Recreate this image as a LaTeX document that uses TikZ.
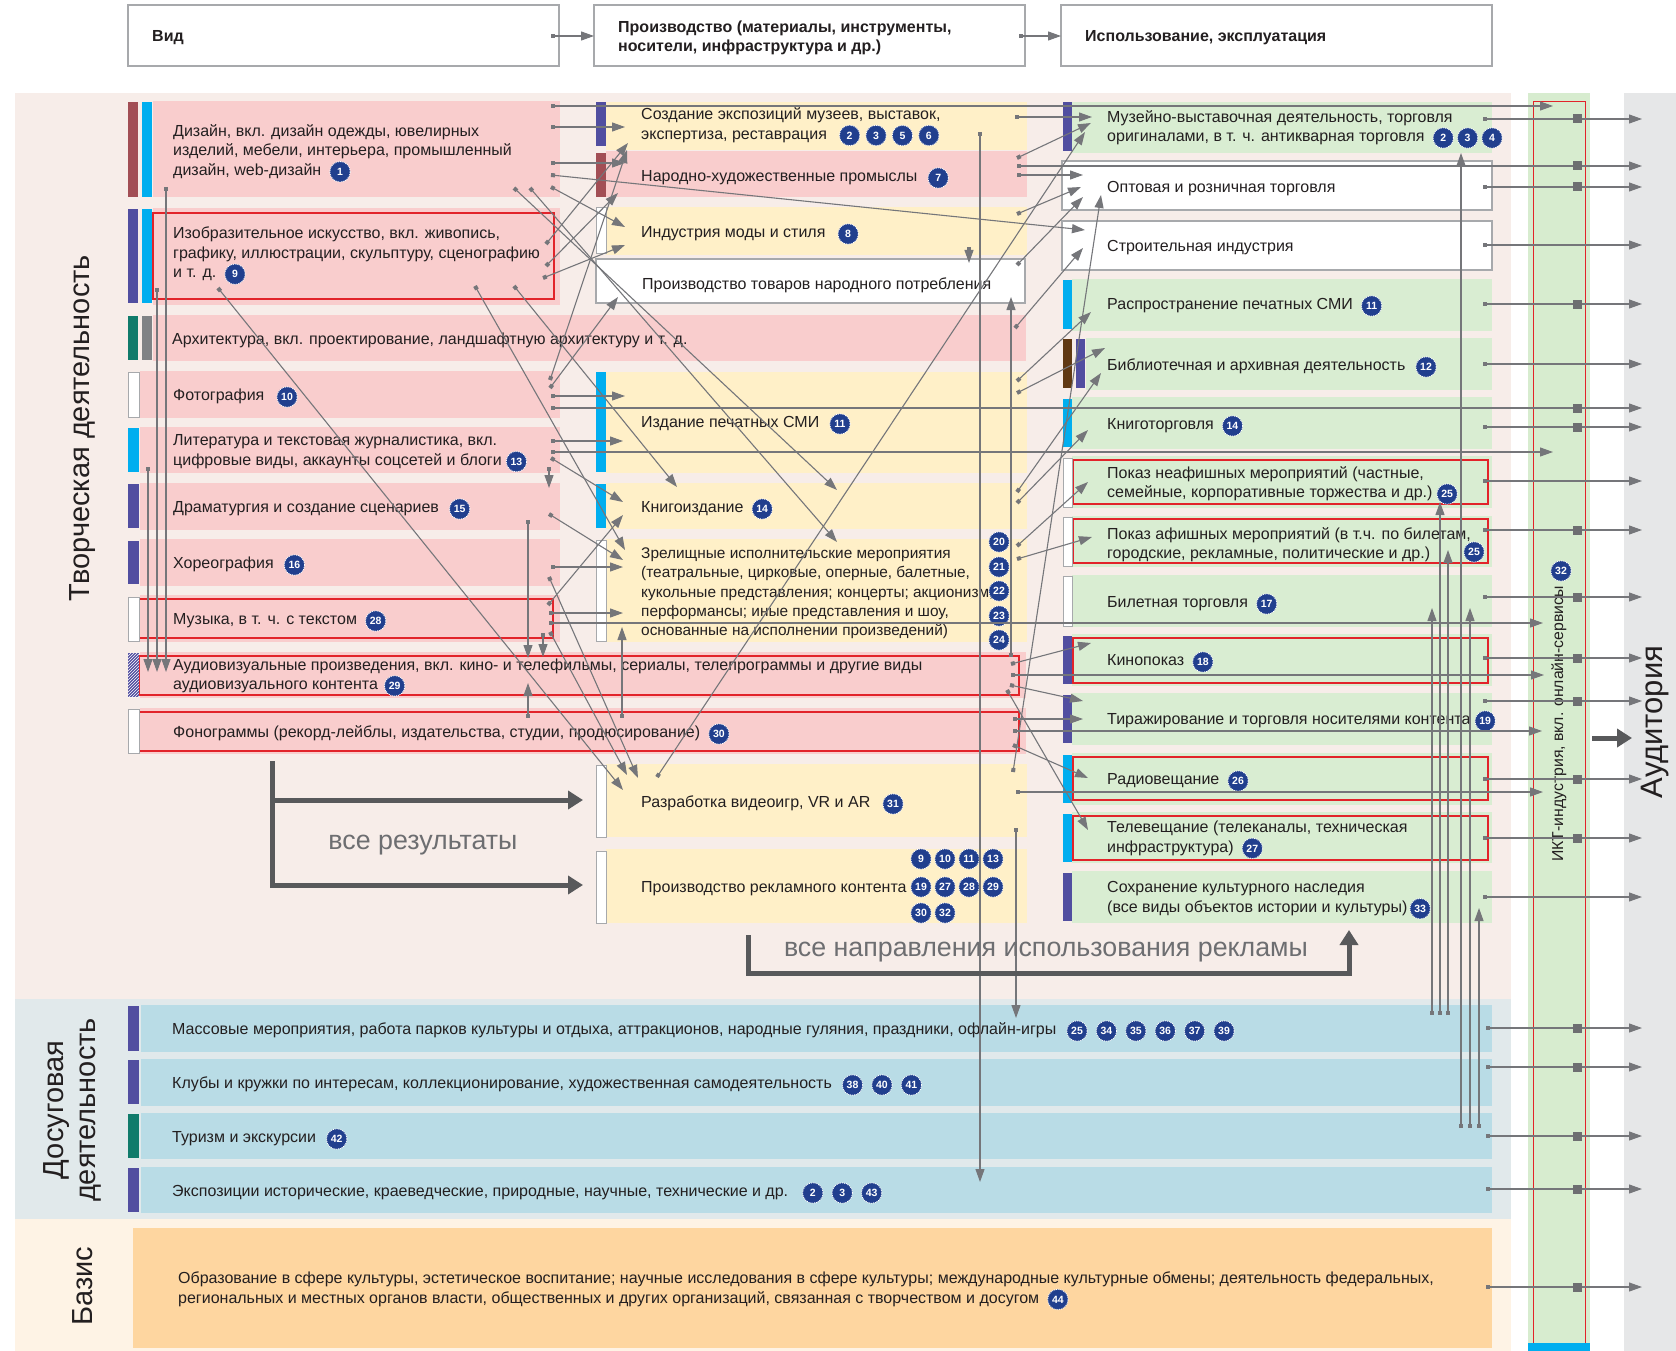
\documentclass[tikz,border=0pt]{standalone}
\usepackage{fontspec}
\setmainfont{Liberation Sans}
\usetikzlibrary{arrows.meta,patterns}

\definecolor{bgcre}{HTML}{F7EDE9}
\definecolor{bglei}{HTML}{E1E9EB}
\definecolor{bgbas}{HTML}{FEF3E5}
\definecolor{pinkfill}{HTML}{F9CDCD}
\definecolor{yelfill}{HTML}{FFF0C8}
\definecolor{grnfill}{HTML}{D9EDD2}
\definecolor{blufill}{HTML}{B9DCE6}
\definecolor{orafill}{HTML}{FED6A0}
\definecolor{ictfill}{HTML}{D7ECCF}
\definecolor{audfill}{HTML}{E6E7E8}
\definecolor{redline}{HTML}{E2232A}
\definecolor{barbrown}{HTML}{A24E55}
\definecolor{barblue}{HTML}{00AEEF}
\definecolor{barpurple}{HTML}{514EA0}
\definecolor{barteal}{HTML}{107B6B}
\definecolor{bargray}{HTML}{808285}
\definecolor{bardark}{HTML}{603913}
\definecolor{linegray}{HTML}{75767A}
\definecolor{boxgray}{HTML}{A7A9AC}
\definecolor{badgeblue}{HTML}{213F8E}
\definecolor{arrowdark}{HTML}{58595B}
\definecolor{labelgray}{HTML}{6D6E71}
\definecolor{ink}{HTML}{231F20}

\tikzset{badge/.style={circle, fill=badgeblue, draw=white, densely dotted, line width=0.9pt,
    minimum size=20.5pt, inner sep=0pt, text=white, font=\bfseries\fontsize{10.5}{10.5}\selectfont}}
\newcommand{\nbadge}[1]{\tikz[baseline=(nb.base)]\node[badge] (nb) {#1};}

\begin{document}
\begin{tikzpicture}[x=1pt, y=-1pt,
    box/.style={anchor=north west, inner sep=0pt, outer sep=0pt},
    pbox/.style={box, fill=pinkfill},
    ybox/.style={box, fill=yelfill},
    gbox/.style={box, fill=grnfill},
    bbox/.style={box, fill=blufill},
    wbox/.style={box, fill=white, draw=boxgray, line width=1.2pt},
    redbox/.style={draw=redline, line width=1.3pt},
    wbar/.style={fill=white, draw=boxgray, line width=1pt},
    conn/.style={draw=linegray, line width=1.1pt,
      {Square[length=4pt,width=4pt]}-{Triangle[length=13pt,width=9pt]}},
    bigarrow/.style={draw=arrowdark, line width=5pt, -{Triangle[length=15pt,width=18pt]}},
    ictsq/.style={fill=labelgray, minimum size=9pt, inner sep=0pt}]
  \tikzstyle{txt}=[anchor=west, align=left, inner sep=0pt, yshift=-2pt, text=ink, font=\fontsize{16}{19.5}\selectfont]
  \tikzstyle{side}=[rotate=90, align=center, inner sep=0pt, text=ink, font=\fontsize{29}{32}\selectfont]

  \useasboundingbox (0,0) rectangle (1676,1351);
  \fill[white] (0,0) rectangle (1676,1351);

  % zones
  \fill[bgcre] (15,93) rectangle (1511,999);
  \fill[bglei] (15,999) rectangle (1511,1219);
  \fill[bgbas] (15,1219) rectangle (1511,1351);
  \fill[ictfill] (1528,93) rectangle (1590,1351);
  \draw[redline, line width=1pt] (1533,102) rectangle (1585,1345);
  \fill[barblue] (1528,1343) rectangle (1590,1351);
  \fill[audfill] (1624,93) rectangle (1676,1351);

  % header
  \node[wbox, minimum width=431, minimum height=61] (hv) at (128,5) {};
  \node[wbox, minimum width=431, minimum height=61] (hp) at (594,5) {};
  \node[wbox, minimum width=431, minimum height=61] (hi) at (1061,5) {};
  \node[txt, font=\bfseries\fontsize{16}{18.5}\selectfont] (hv-t) at (152,36) {Вид};
  \node[txt, font=\bfseries\fontsize{16}{18.5}\selectfont] (hp-t) at (618,36) {Производство (материалы, инструменты,\\носители, инфраструктура и др.)};
  \node[txt, font=\bfseries\fontsize{16}{18.5}\selectfont] (hi-t) at (1085,36) {Использование, эксплуатация};

  % kinds of creative work
  \node[pbox, minimum width=407, minimum height=96] (diz) at (153,101) {};
  \node[pbox, minimum width=407, minimum height=97] (izo) at (153,208) {};
  \node[pbox, minimum width=873, minimum height=46] (arch) at (153,315) {};
  \node[pbox, minimum width=420, minimum height=47] (foto) at (140,371) {};
  \node[pbox, minimum width=420, minimum height=46] (lit) at (140,427) {};
  \node[pbox, minimum width=420, minimum height=47] (dram) at (140,483) {};
  \node[pbox, minimum width=420, minimum height=47] (hor) at (140,539) {};
  \node[pbox, minimum width=420, minimum height=47] (muz) at (140,595) {};
  \node[pbox, minimum width=886, minimum height=46] (av) at (140,652) {};
  \node[pbox, minimum width=886, minimum height=46] (fon) at (140,708) {};

  % production
  \node[ybox, minimum width=421, minimum height=48] (sozd) at (606,102) {};
  \node[pbox, minimum width=421, minimum height=46] (nar) at (606,151) {};
  \node[ybox, minimum width=421, minimum height=48] (ind) at (606,207) {};
  \node[wbox, minimum width=429, minimum height=44] (ptov) at (596,259) {};
  \node[ybox, minimum width=421, minimum height=101] (izd) at (606,372) {};
  \node[ybox, minimum width=421, minimum height=46] (knig) at (606,483) {};
  \node[ybox, minimum width=421, minimum height=103] (zrel) at (606,539) {};
  \node[ybox, minimum width=421, minimum height=73] (razr) at (606,764) {};
  \node[ybox, minimum width=421, minimum height=74] (rekl) at (606,849) {};

  % use
  \node[gbox, minimum width=420, minimum height=51] (muzv) at (1072,102) {};
  \node[wbox, minimum width=430, minimum height=49] (opt) at (1062,161) {};
  \node[wbox, minimum width=430, minimum height=49] (stroi) at (1062,221) {};
  \node[gbox, minimum width=420, minimum height=52] (rasp) at (1072,279) {};
  \node[gbox, minimum width=406, minimum height=52] (bib) at (1086,338) {};
  \node[gbox, minimum width=420, minimum height=52] (ktorg) at (1072,397) {};
  \node[gbox, minimum width=420, minimum height=52] (pneaf) at (1072,456) {};
  \node[gbox, minimum width=420, minimum height=51] (paf) at (1072,516) {};
  \node[gbox, minimum width=420, minimum height=52] (bil) at (1072,575) {};
  \node[gbox, minimum width=420, minimum height=52] (kino) at (1072,634) {};
  \node[gbox, minimum width=420, minimum height=52] (tir) at (1072,693) {};
  \node[gbox, minimum width=420, minimum height=52] (radio) at (1072,753) {};
  \node[gbox, minimum width=420, minimum height=51] (tv) at (1072,812) {};
  \node[gbox, minimum width=420, minimum height=52] (sohr) at (1072,871) {};

  % leisure and basis
  \node[bbox, minimum width=1351, minimum height=47] (mass) at (141,1005) {};
  \node[bbox, minimum width=1351, minimum height=47] (klub) at (141,1059) {};
  \node[bbox, minimum width=1351, minimum height=46] (tur) at (141,1113) {};
  \node[bbox, minimum width=1351, minimum height=46] (eksp) at (141,1167) {};
  \node[box, fill=orafill, minimum width=1359, minimum height=120] (bas) at (133,1228) {};

  % red frames
  \draw[redbox] (153,213) rectangle (554,299);
  \draw[redbox] (139,599) rectangle (553,638);
  \draw[redbox] (139,656) rectangle (1019,695);
  \draw[redbox] (139,712) rectangle (1019,751);
  \draw[redbox] (1073,460) rectangle (1488,504);
  \draw[redbox] (1073,519) rectangle (1488,563);
  \draw[redbox] (1073,638) rectangle (1488,683);
  \draw[redbox] (1073,757) rectangle (1488,800);
  \draw[redbox] (1073,816) rectangle (1488,860);

  % marker bars
  \fill[barbrown] (128,102) rectangle (138,197);
  \fill[barblue] (142,102) rectangle (152,197);
  \fill[barpurple] (128,209) rectangle (138,303);
  \fill[barblue] (142,209) rectangle (152,303);
  \fill[barteal] (128,316) rectangle (138,360);
  \fill[bargray] (142,316) rectangle (152,360);
  \filldraw[wbar] (128,372) rectangle (139,417);
  \fill[barblue] (128,428) rectangle (139,472);
  \fill[barpurple] (128,484) rectangle (139,528);
  \fill[barpurple] (128,541) rectangle (139,584);
  \filldraw[wbar] (128,597) rectangle (139,641);
  \fill[barpurple] (128,653) rectangle (139,697);
  \fill[pattern=north east lines, pattern color=white] (128,653) rectangle (139,697);
  \filldraw[wbar] (128,709) rectangle (139,753);
  \fill[barpurple] (596,102) rectangle (606,146);
  \fill[barbrown] (596,153) rectangle (606,197);
  \filldraw[wbar] (596,208) rectangle (606,253);
  \fill[barblue] (596,372) rectangle (606,472);
  \fill[barblue] (596,484) rectangle (606,528);
  \filldraw[wbar] (596,540) rectangle (606,641);
  \filldraw[wbar] (596,765) rectangle (606,837);
  \filldraw[wbar] (596,851) rectangle (606,923);
  \fill[barpurple] (1063,102) rectangle (1072,151);
  \fill[barblue] (1063,280) rectangle (1072,329);
  \fill[bardark] (1063,339) rectangle (1072,388);
  \fill[barpurple] (1076,339) rectangle (1085,388);
  \fill[barblue] (1063,399) rectangle (1072,447);
  \filldraw[wbar] (1063,458) rectangle (1072,507);
  \filldraw[wbar] (1063,517) rectangle (1072,566);
  \filldraw[wbar] (1063,576) rectangle (1072,626);
  \fill[barpurple] (1063,636) rectangle (1072,684);
  \fill[barpurple] (1063,695) rectangle (1072,743);
  \fill[barblue] (1063,755) rectangle (1072,803);
  \fill[barblue] (1063,814) rectangle (1072,862);
  \fill[barpurple] (1063,873) rectangle (1072,921);
  \fill[barpurple] (128,1006) rectangle (139,1051);
  \fill[barpurple] (128,1060) rectangle (139,1104);
  \fill[barteal] (128,1114) rectangle (139,1158);
  \fill[barpurple] (128,1168) rectangle (139,1212);

  % side labels
  \node[side] (tvor-t) at (83,428) {Творческая деятельность};
  \node[side] (dos-t) at (72,1110) {Досуговая\\деятельность};
  \node[side] (baz-t) at (83,1286) {Базис};
  \node[side, font=\fontsize{31}{34}\selectfont] (aud-t) at (1655,722) {Аудитория};
  \node[side, font=\fontsize{15.8}{19}\selectfont] (ict-t) at (1559,724) {ИКТ-индустрия, вкл. онлайн-сервисы};
  \node[badge] (ict-b) at (1561,571) {32};

  % texts, left
  \node[txt] (diz-t) at (173,151.5) {Дизайн, вкл. дизайн одежды, ювелирных\\изделий, мебели, интерьера, промышленный\\дизайн, web-дизайн\hspace{8pt}\nbadge{1}};
  \node[txt] (izo-t) at (173,254) {Изобразительное искусство, вкл. живопись,\\графику, иллюстрации, скульптуру, сценографию\\и т. д.\hspace{8pt}\nbadge{9}};
  \node[txt] (arch-t) at (172,338) {Архитектура, вкл. проектирование, ландшафтную архитектуру и т. д.};
  \node[txt] (foto-t) at (173,395) {Фотография\hspace{12pt}\nbadge{10}};
  \node[txt] (lit-t) at (173,451.5) {Литература и текстовая журналистика, вкл.\\цифровые виды, аккаунты соцсетей и блоги\hspace{4pt}\nbadge{13}};
  \node[txt] (dram-t) at (173,507) {Драматургия и создание сценариев\hspace{10pt}\nbadge{15}};
  \node[txt] (hor-t) at (173,563) {Хореография\hspace{10pt}\nbadge{16}};
  \node[txt] (muz-t) at (173,619) {Музыка, в т. ч. с текстом\hspace{8pt}\nbadge{28}};
  \node[txt] (av-t) at (173,675.5) {Аудиовизуальные произведения, вкл. кино- и телефильмы, сериалы, телепрограммы и другие виды\\аудиовизуального контента\hspace{6pt}\nbadge{29}};
  \node[txt] (fon-t) at (173,732) {Фонограммы (рекорд-лейблы, издательства, студии, продюсирование)\hspace{8pt}\nbadge{30}};

  % texts, production
  \node[txt] (sozd-t) at (641,125) {Создание экспозиций музеев, выставок,\\экспертиза, реставрация\hspace{12pt}\nbadge{2}\hspace{5pt}\nbadge{3}\hspace{5pt}\nbadge{5}\hspace{5pt}\nbadge{6}};
  \node[txt] (nar-t) at (641,176) {Народно-художественные промыслы\hspace{10pt}\nbadge{7}};
  \node[txt] (ind-t) at (641,232) {Индустрия моды и стиля\hspace{12pt}\nbadge{8}};
  \node[txt] (ptov-t) at (642,283) {Производство товаров народного потребления};
  \node[txt] (izd-t) at (641,422) {Издание печатных СМИ\hspace{10pt}\nbadge{11}};
  \node[txt] (knig-t) at (641,507) {Книгоиздание\hspace{8pt}\nbadge{14}};
  \node[txt, font=\fontsize{15.4}{19.3}\selectfont] (zrel-t) at (641,591.5) {Зрелищные исполнительские мероприятия\\(театральные, цирковые, оперные, балетные,\\кукольные представления; концерты; акционизм;\\перформансы; иные представления и шоу,\\основанные на исполнении произведений)};
  \node[txt] (razr-t) at (641,802) {Разработка видеоигр, VR и AR\hspace{12pt}\nbadge{31}};
  \node[txt] (rekl-t) at (641,887) {Производство рекламного контента};
  \foreach \n/\y in {20/542, 21/567, 22/591, 23/616, 24/640}
    \node[badge] (zb\n) at (999,\y) {\n};
  \foreach \n/\x/\y in {9/921/859, 10/945/859, 11/969/859, 13/993/859, 19/921/887, 27/945/887,
      28/969/887, 29/993/887, 30/921/913, 32/945/913}
    \node[badge] (rb\n) at (\x,\y) {\n};

  % texts, use
  \node[txt] (muzv-t) at (1107,127.5) {Музейно-выставочная деятельность, торговля\\оригиналами, в т. ч. антикварная торговля\hspace{8pt}\nbadge{2}\hspace{3pt}\nbadge{3}\hspace{3pt}\nbadge{4}};
  \node[txt] (opt-t) at (1107,187) {Оптовая и розничная торговля};
  \node[txt] (stroi-t) at (1107,246) {Строительная индустрия};
  \node[txt] (rasp-t) at (1107,304) {Распространение печатных СМИ\hspace{8pt}\nbadge{11}};
  \node[txt] (bib-t) at (1107,365) {Библиотечная и архивная деятельность\hspace{10pt}\nbadge{12}};
  \node[txt] (ktorg-t) at (1107,424) {Книготорговля\hspace{8pt}\nbadge{14}};
  \node[txt] (pneaf-t) at (1107,483.5) {Показ неафишных мероприятий (частные,\\семейные, корпоративные торжества и др.)\hspace{4pt}\nbadge{25}};
  \node[txt] (paf-t) at (1107,542.5) {Показ афишных мероприятий (в т.ч. по билетам,\\городские, рекламные, политические и др.)};
  \node[badge] (paf-b) at (1474,552) {25};
  \node[txt] (bil-t) at (1107,602) {Билетная торговля\hspace{8pt}\nbadge{17}};
  \node[txt] (kino-t) at (1107,660) {Кинопоказ\hspace{8pt}\nbadge{18}};
  \node[txt] (tir-t) at (1107,719) {Тиражирование и торговля носителями контента\hspace{4pt}\nbadge{19}};
  \node[txt] (radio-t) at (1107,779) {Радиовещание\hspace{8pt}\nbadge{26}};
  \node[txt] (tv-t) at (1107,838) {Телевещание (телеканалы, техническая\\инфраструктура)\hspace{8pt}\nbadge{27}};
  \node[txt] (sohr-t) at (1107,898.5) {Сохранение культурного наследия\\(все виды объектов истории и культуры)\hspace{2pt}\nbadge{33}};

  % texts, leisure and basis
  \node[txt] (mass-t) at (172,1029) {Массовые мероприятия, работа парков культуры и отдыха, аттракционов, народные гуляния, праздники, офлайн-игры\hspace{10pt}\nbadge{25}\hspace{8pt}\nbadge{34}\hspace{8pt}\nbadge{35}\hspace{8pt}\nbadge{36}\hspace{8pt}\nbadge{37}\hspace{8pt}\nbadge{39}};
  \node[txt] (klub-t) at (172,1083) {Клубы и кружки по интересам, коллекционирование, художественная самодеятельность\hspace{10pt}\nbadge{38}\hspace{8pt}\nbadge{40}\hspace{8pt}\nbadge{41}};
  \node[txt] (tur-t) at (172,1137) {Туризм и экскурсии\hspace{10pt}\nbadge{42}};
  \node[txt] (eksp-t) at (172,1191) {Экспозиции исторические, краеведческие, природные, научные, технические и др.\hspace{14pt}\nbadge{2}\hspace{8pt}\nbadge{3}\hspace{8pt}\nbadge{43}};
  \node[txt] (bas-t) at (178,1289) {Образование в сфере культуры, эстетическое воспитание; научные исследования в сфере культуры; международные культурные обмены; деятельность федеральных,\\региональных и местных органов власти, общественных и других организаций, связанная с творчеством и досугом\hspace{8pt}\nbadge{44}};

  % connectors between named ports
  \foreach \a/\ax/\ay/\b/\bx/\by in {
      hv-o/551/36/hp-i/594/36, hp-o/1019/36/hi-i/1061/36,
      diz-o1/551/106/ict-i1/1553/106, diz-o2/551/127/sozd-i1/625/127,
      diz-o3/551/163/nar-i1/625/163, diz-o4/551/175/stroi-i1/1085/230,
      diz-o5/551/187/ind-i1/625/227, diz-o6/514/188/knig-i1/837/490,
      diz-o7/530/188/zrel-i1/837/542, diz-o8/166/187/av-i1/166/672,
      izo-o1/546/244/sozd-i2/628/143, izo-o2/546/266/nar-i2/618/193,
      izo-o3/543/278/ind-i2/625/245, izo-o4/475/286/zrel-i2/625/550,
      izo-o5/514/286/knig-i2/677/487, izo-o6/218/288/razr-i1/623/790,
      izo-o7/157/288/av-i2/157/672,
      foto-o1/550/380/sozd-i3/627/150, foto-o2/550/388/ptov-i1/618/297,
      foto-o3/551/396/izd-i1/625/396, foto-o4/551/408/aud-i1/1642/408,
      lit-o1/551/441/izd-i2/623/441, lit-o2/551/452/ict-i2/1553/452,
      lit-o3/551/458/knig-i3/623/502, lit-o4/549/467/dram-i1/549/488,
      lit-o5/148/467/av-i3/148/672,
      dram-o1/549/514/zrel-i3/623/560, dram-o2/528/520/av-i4/528/658,
      hor-o1/551/567/zrel-i4/623/567, hor-o2/549/577/razr-i2/638/778,
      muz-o1/548/605/knig-i4/623/515, muz-o2/549/613/zrel-i5/623/613,
      muz-o3/549/623/ict-i3/1543/623, muz-o4/543/633/av-i5/543/657,
      muz-o5/550/632/razr-i3/627/775,
      fon-o1/528/718/av-i6/528/683, fon-o2/622/718/zrel-i6/622/627,
      sozd-o1/1015/117/muzv-i1/1092/117, sozd-o2/980/132/eksp-i1/980/1182,
      nar-o1/1017/158/muzv-i2/1091/123, nar-o2/1017/166/aud-i2/1642/166,
      nar-o3/1017/175/opt-i1/1083/175,
      ind-o1/1017/214/opt-i2/1081/187, ind-o2/969/247/ptov-i2/969/263,
      ptov-o1/1017/265/opt-i3/1083/197, arch-o1/1015/328/stroi-i2/1083/248,
      izd-o1/1017/381/rasp-i1/1091/312, izd-o2/1017/393/bib-i1/1105/348,
      knig-o1/1017/492/bib-i2/1101/373, knig-o2/1017/503/ktorg-i1/1088/430,
      zrel-o1/1017/546/pneaf-i1/1088/482, zrel-o2/1017/559/paf-i1/1092/537,
      av-o1/1011/657/ptov-i3/1011/297, av-o2/1011/664/kino-i1/1091/643,
      av-o3/1011/675/ict-i4/1544/675, av-o4/1010/685/tir-i1/1083/701,
      av-o5/1007/690/tv-i1/1088/830,
      fon-o3/1013/719/tir-i2/1083/719, fon-o4/1013/731/ict-i5/1542/731,
      fon-o5/1013/745/radio-i1/1088/778,
      razr-o1/657/777/muzv-i3/1085/132, razr-o2/1013/772/opt-i4/1101/195,
      razr-o3/1016/792/ict-i6/1543/792, razr-o4/1016/828/mass-i1/1016/1018,
      mass-o1/1432/1015/bil-i1/1432/608, mass-o2/1440/1015/pneaf-i2/1440/502,
      mass-o3/1448/1015/paf-i2/1448/550,
      tur-o1/1461/1128/muzv-i4/1461/153, tur-o2/1470/1128/bil-i2/1470/608,
      tur-o3/1479/1128/sohr-i1/1479/908}{
    \coordinate (\a) at (\ax,\ay);
    \coordinate (\b) at (\bx,\by);
    \draw[conn] (\a) -- (\b);
  }

  % to the audience
  \foreach \n/\x/\y in {muzv/1483/119, opt/1483/187, stroi/1483/245, rasp/1483/304,
      bib/1483/364, ktorg/1483/427, pneaf/1483/481, paf/1483/530, bil/1483/597,
      kino/1483/658, tir/1483/701, radio/1483/779, tv/1483/838, sohr/1483/897,
      mass/1486/1028, klub/1486/1067, tur/1486/1136, eksp/1486/1189, bas/1486/1287}{
    \coordinate (\n-out) at (\x,\y);
    \coordinate (\n-aud) at (1642,\y);
    \draw[conn] (\n-out) -- (\n-aud);
  }
  \foreach \y [count=\i] in {119,166,187,304,408,427,530,597,658,701,779,838,1028,1067,1136,1189,1287}
    \node[ictsq] (sq\i) at (1577,\y) {};

  % summary arrows
  \coordinate (res-top) at (272,761);
  \coordinate (res-mid) at (272,800);
  \coordinate (razr-res) at (583,800);
  \coordinate (rekl-res) at (583,885);
  \draw[bigarrow] (res-top) |- (rekl-res);
  \draw[bigarrow] (res-mid) -- (razr-res);
  \node[font=\fontsize{26.8}{28}\selectfont, text=labelgray] (res-t) at (423,845) {все результаты};

  \coordinate (adv-a) at (748,935);
  \coordinate (adv-c) at (748,973);
  \coordinate (adv-b) at (1349,930);
  \draw[bigarrow] (adv-a) -- (adv-c) -| (adv-b);
  \node[font=\fontsize{26.8}{28}\selectfont, text=labelgray] (adv-t) at (1046,952) {все направления использования рекламы};

  \coordinate (ict-out) at (1592,738);
  \coordinate (aud-in) at (1632,738);
  \draw[bigarrow] (ict-out) -- (aud-in);
\end{tikzpicture}
\end{document}
